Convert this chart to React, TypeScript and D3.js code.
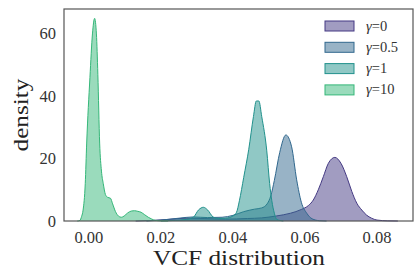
import * as d3 from "d3";

// KDE curves: [VCF value, density]
const gamma0: [number, number][] = [
  [0.013, 0], [0.018, 0.2], [0.022, 0.5], [0.027, 0.9], [0.032, 0.8], [0.038, 0.6],
  [0.044, 0.8], [0.048, 1], [0.052, 1.6], [0.056, 2.5], [0.059, 3.7], [0.061, 5],
  [0.0623, 6.7], [0.0637, 10], [0.0651, 14.2], [0.0665, 18.5], [0.0683, 20.4],
  [0.07, 18.5], [0.0716, 14.2], [0.073, 9.5], [0.0744, 5.7], [0.0758, 3.5],
  [0.0771, 1.9], [0.0785, 0.9], [0.08, 0.3], [0.083, 0.05], [0.0858, 0],
];
const gamma05: [number, number][] = [
  [0.016, 0], [0.02, 0.3], [0.025, 0.9], [0.029, 1.3], [0.033, 1.1], [0.037, 1.2],
  [0.04, 1.8], [0.043, 3], [0.046, 3.8], [0.048, 4.2], [0.0495, 5.5], [0.0505, 8],
  [0.0515, 13], [0.053, 22], [0.0547, 27.6], [0.0563, 23.8], [0.0577, 13.2],
  [0.059, 6], [0.0605, 2.5], [0.062, 0.7], [0.064, 0.1], [0.066, 0],
];
const gamma1: [number, number][] = [
  [0.02, 0], [0.024, 0.2], [0.027, 0.5], [0.029, 1.2], [0.0305, 3.6], [0.0318, 4.4],
  [0.033, 3.5], [0.0345, 1.3], [0.036, 0.8], [0.038, 0.9], [0.04, 1.6], [0.041, 2.8],
  [0.0418, 6.5], [0.043, 14], [0.0444, 23], [0.0457, 33.5], [0.0465, 38.5],
  [0.0472, 38.5], [0.048, 33.5], [0.0494, 22.5], [0.0502, 12], [0.0508, 6.5],
  [0.0515, 2.5], [0.0522, 0.5], [0.054, 0],
];
const gamma10: [number, number][] = [
  [-0.0032, 0], [-0.0025, 0.2], [-0.002, 1.5], [-0.0016, 3.5], [-0.001, 12],
  [-0.0006, 25], [0.0003, 46], [0.001, 60], [0.0016, 65], [0.0021, 60], [0.0025, 47],
  [0.003, 25], [0.0035, 16], [0.004, 12], [0.0046, 8.5], [0.0052, 7.6], [0.006, 7.3],
  [0.0066, 5.5], [0.0074, 3], [0.0082, 1.6], [0.009, 1.2], [0.0098, 1.6],
  [0.0108, 2.6], [0.0118, 3.2], [0.0127, 3.3], [0.0136, 3.1], [0.0145, 2.8],
  [0.0155, 2], [0.0165, 1.2], [0.0175, 0.6], [0.0185, 0.2], [0.02, 0.05], [0.022, 0],
];

const labels = ["γ=0", "γ=0.5", "γ=1", "γ=10"];
const colors = ["#443983", "#31688e", "#21918c", "#35b779"];
const series = [gamma0, gamma05, gamma1, gamma10];
const xTicks = [0, 0.02, 0.04, 0.06, 0.08];
const yTicks = [0, 20, 40, 60];

const width = 414;
const height = 269;
const marginLeft = 64;
const marginRight = 1;
const marginTop = 9;
const marginBottom = 48;
const font = "'Liberation Serif', 'DejaVu Serif', serif";

export default function App() {
  const x = d3
    .scaleLinear()
    .domain([-0.0069, 0.09])
    .range([marginLeft, width - marginRight]);
  const y = d3
    .scaleLinear()
    .domain([0, 68])
    .range([height - marginBottom, marginTop]);

  const area = d3
    .area<[number, number]>()
    .x((d) => x(d[0]))
    .y0(y(0))
    .y1((d) => y(d[1]))
    .curve(d3.curveMonotoneX);
  const line = d3
    .line<[number, number]>()
    .x((d) => x(d[0]))
    .y((d) => y(d[1]))
    .curve(d3.curveMonotoneX);

  return (
    <svg
      width={width}
      height={height}
      style={{position: "absolute", left: 0, top: 0, display: "block"}}
      fontFamily={font}
    >
      <rect x={0} y={0} width={width} height={height} fill="#fff" />
      {series.map((s, i) => (
        <g key={labels[i]}>
          <path d={area(s) ?? ""} fill={colors[i]} fillOpacity={0.5} />
          <path d={line(s) ?? ""} fill="none" stroke={colors[i]} strokeWidth={1} />
        </g>
      ))}
      <rect
        x={marginLeft}
        y={marginTop}
        width={width - marginRight - marginLeft}
        height={height - marginBottom - marginTop}
        fill="none"
        stroke="#555"
        strokeWidth={1.2}
      />
      {xTicks.map((t) => (
        <text
          key={t}
          x={x(t)}
          y={242.5}
          textAnchor="middle"
          fontSize={16.5}
          fill="#333"
        >
          {t.toFixed(2)}
        </text>
      ))}
      {yTicks.map((t) => (
        <text
          key={t}
          x={marginLeft - 8}
          y={y(t) + 5.5}
          textAnchor="end"
          fontSize={16.5}
          fill="#333"
        >
          {t}
        </text>
      ))}
      <text
        x={(marginLeft + width - marginRight) / 2 + 0.5}
        y={264.5}
        textAnchor="middle"
        fontSize={20}
        textLength={172}
        lengthAdjust="spacingAndGlyphs"
        fill="#222"
      >
        VCF distribution
      </text>
      <text
        transform={`translate(28,${y(34)}) rotate(-90)`}
        textAnchor="middle"
        fontSize={22}
        textLength={73}
        lengthAdjust="spacingAndGlyphs"
        fill="#222"
      >
        density
      </text>
      {labels.map((l, i) => (
        <g key={l} transform={`translate(325,${21 + i * 21.3})`}>
          <rect
            width={29}
            height={10}
            fill={colors[i]}
            fillOpacity={0.5}
            stroke={colors[i]}
            strokeWidth={1}
          />
          <text x={41} y={9.5} fontSize={14.5} fill="#333">
            <tspan fontStyle="italic">γ</tspan>
            {l.slice(1)}
          </text>
        </g>
      ))}
    </svg>
  );
}
